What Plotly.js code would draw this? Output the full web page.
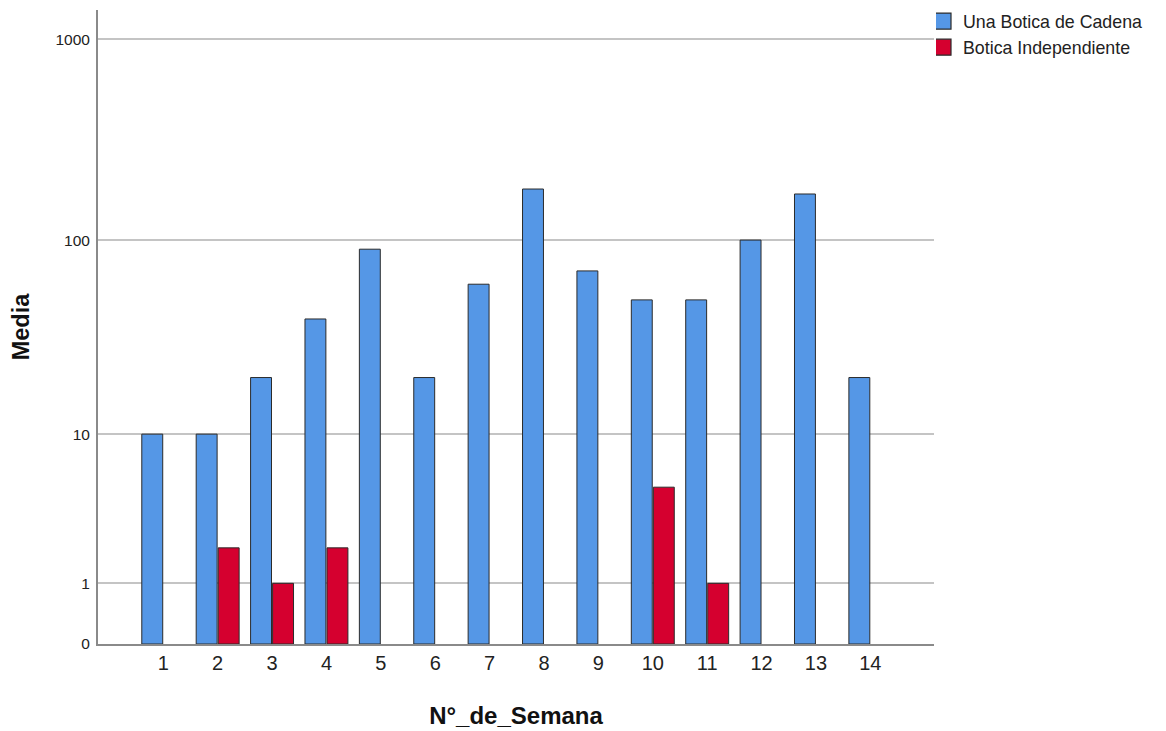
<!DOCTYPE html>
<html>
<head>
<meta charset="utf-8">
<script src="https://cdn.plot.ly/plotly-3.0.1.min.js"></script>
<style>html,body{margin:0;padding:0;background:#fff;}#chart{width:1166px;height:731px;}</style>
</head>
<body>
<div id="chart"></div>
<script>
// Data (Media per week), y axis drawn on a log10(value+1) scale as in the reference
const semanas = [1,2,3,4,5,6,7,8,9,10,11,12,13,14];
const cadena = [10,10,20,40,90,20,60,180,70,50,50,100,170,20];
const independiente = [null,2,1,2,null,null,null,null,null,5,1,null,null,null];
const yTicks = [0,1,10,100,1000];
const seriesNames = ["Una Botica de Cadena","Botica Independiente"];
const colors = ['#5597E6','#D5002F'];

const tf = v => (v === null ? null : Math.log10(v + 1));

const font = "Liberation Sans, Arial, sans-serif";
const edge = '#2b2b2b';
const traces = [
  {type:'bar', name:seriesNames[0], x:semanas, y:cadena.map(tf), customdata:cadena, showlegend:false,
   marker:{color:colors[0], line:{color:edge, width:1}}},
  {type:'bar', name:seriesNames[1], x:semanas, y:independiente.map(tf), customdata:independiente, showlegend:false,
   marker:{color:colors[1], line:{color:edge, width:1}}},
  // legend entries with larger square swatches
  {type:'scatter', mode:'markers', name:seriesNames[0], x:[null], y:[null], legendgroup:'a',
   marker:{symbol:'square', size:16, color:colors[0], line:{color:edge, width:1.2}}},
  {type:'scatter', mode:'markers', name:seriesNames[1], x:[null], y:[null], legendgroup:'b',
   marker:{symbol:'square', size:16, color:colors[1], line:{color:edge, width:1.2}}}
];

const layout = {
  width:1166, height:731,
  margin:{l:98, r:232, t:10, b:87},
  paper_bgcolor:'#fff', plot_bgcolor:'#fff',
  barmode:'group', bargap:0.19, bargroupgap:0.05,
  font:{family:font, size:16, color:'#222'},
  showlegend:true,
  legend:{xref:'container', yref:'container', x:936/1166, y:1-3/731, xanchor:'left', yanchor:'top',
          font:{family:font, size:17.8, color:'#222'}, bgcolor:'rgba(0,0,0,0)',
          tracegroupgap:0, itemwidth:30, traceorder:'grouped', indentation:-13},
  xaxis:{
    range:[-0.2, 15.17], tickmode:'array', tickvals:semanas, ticktext:semanas.map(String),
    showgrid:false, zeroline:false, showline:true, linecolor:'#8a8a8a', linewidth:2,
    ticks:'', tickfont:{family:font, size:20, color:'#222'},
    title:{text:'N°_de_Semana', font:{family:font, size:24, color:'#111', weight:'bold'}, standoff:34}
  },
  yaxis:{
    range:[0, 3.146], tickmode:'array', tickvals:yTicks.map(tf), ticktext:yTicks.map(String),
    showgrid:true, gridcolor:'#c4c4c4', gridwidth:2, zeroline:false,
    showline:true, linecolor:'#8a8a8a', linewidth:2,
    ticks:'outside', ticklen:3, tickcolor:'rgba(0,0,0,0)',
    tickfont:{family:font, size:15.5, color:'#222'},
    title:{text:'Media', font:{family:font, size:23.5, color:'#111', weight:'bold'}, standoff:19}
  }
};

Plotly.newPlot('chart', traces, layout, {displayModeBar:false, staticPlot:true});
</script>
</body>
</html>
